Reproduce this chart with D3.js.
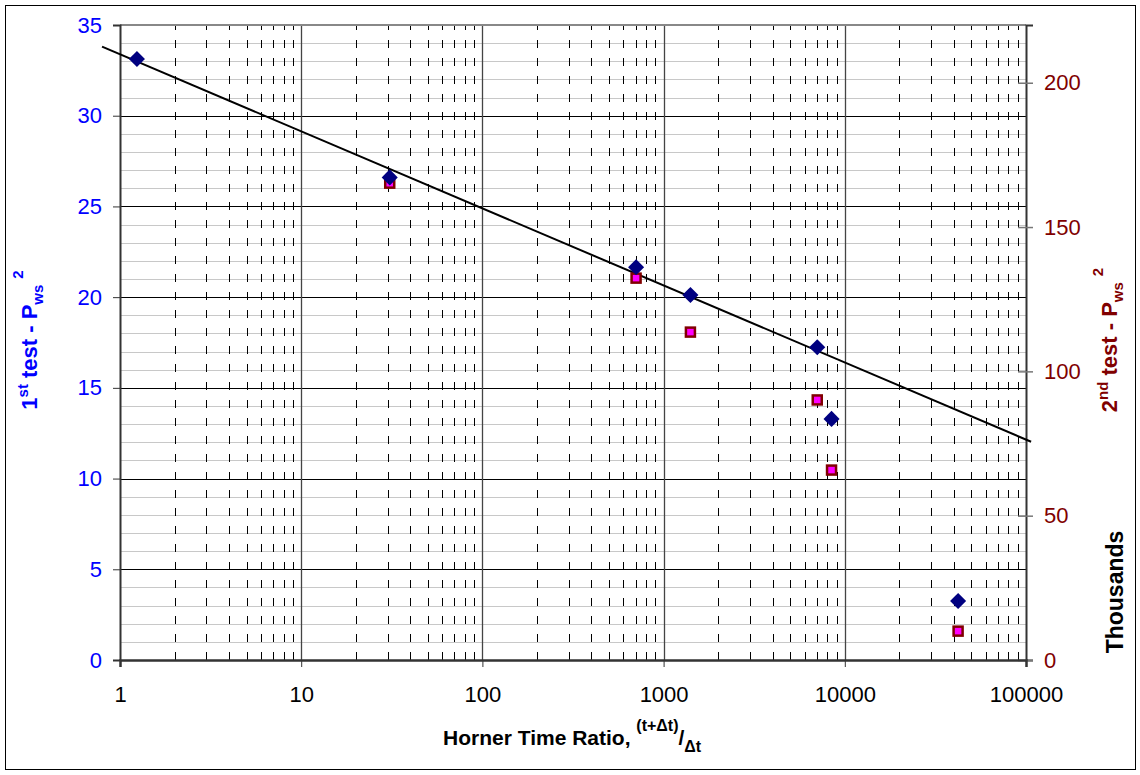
<!DOCTYPE html>
<html><head><meta charset="utf-8">
<script src="https://cdn.jsdelivr.net/npm/d3@7"></script>
<style>body{margin:0;background:#fff;} text{font-family:"Liberation Sans",Arial,sans-serif;}</style>
</head><body>
<svg id="c" width="1140" height="775"></svg>
<script>
// Data
const test1X = [1.24, 30.8, 705, 1406, 7046, 8450, 42200];
const test1Y = [33.13, 26.6, 21.65, 20.12, 17.24, 13.29, 3.25];
const test2X = [30.8, 705, 1406, 7046, 8450, 42200];
const test2Y = [165.2, 132.3, 113.6, 90.1, 65.8, 10.0]; // thousands
const trendX = [0.796, 106700];
const trendY = [33.81, 12.03];
const xTicks = [1, 10, 100, 1000, 10000, 100000];
const yLeftTicks = [0, 5, 10, 15, 20, 25, 30, 35];
const yRightTicks = [0, 50, 100, 150, 200];

const svg = d3.select("#c");
const L = 120, R = 1026, T = 25, B = 660;
const x = d3.scaleLog().domain([1, 100000]).range([L, R]);
const yL = d3.scaleLinear().domain([0, 35]).range([B, T]);
const yR = d3.scaleLinear().domain([0, 220]).range([B, T]);
const FF = "Liberation Sans, Arial, sans-serif";

// outer frame
svg.append("rect").attr("x", 5.5).attr("y", 5.5).attr("width", 1130).attr("height", 764)
  .attr("fill", "#fff").attr("stroke", "#000").attr("stroke-width", 1);

const g = svg.append("g");
// minor horizontal gridlines
d3.range(1, 35).filter(v => v % 5 !== 0).forEach(v => {
  g.append("line").attr("x1", L).attr("x2", R).attr("y1", Math.round(yL(v)) + 0.5).attr("y2", Math.round(yL(v)) + 0.5)
    .attr("stroke", "#c8c8c8").attr("stroke-width", 1);
});
// minor vertical dashed gridlines
[1, 10, 100, 1000, 10000].forEach(d => {
  d3.range(2, 10).forEach(k => {
    const xx = Math.round(x(k * d)) + 0.5;
    g.append("line").attr("x1", xx).attr("x2", xx).attr("y1", B).attr("y2", T)
      .attr("stroke", "#000").attr("stroke-width", 1).attr("stroke-dasharray", "8,10");
  });
});
// major horizontal
yLeftTicks.filter(v => v > 0 && v < 35).forEach(v => {
  g.append("line").attr("x1", L).attr("x2", R).attr("y1", Math.round(yL(v)) + 0.5).attr("y2", Math.round(yL(v)) + 0.5)
    .attr("stroke", "#000").attr("stroke-width", 1);
});
// major vertical
xTicks.filter(v => v > 1 && v < 100000).forEach(v => {
  const xx = Math.round(x(v)) + 0.5;
  g.append("line").attr("x1", xx).attr("x2", xx).attr("y1", B).attr("y2", T)
    .attr("stroke", "#444").attr("stroke-width", 1.3);
});
// top border
g.append("line").attr("x1", L).attr("x2", R).attr("y1", T).attr("y2", T).attr("stroke", "#888").attr("stroke-width", 2);

// axes
const axL = d3.axisLeft(yL).tickValues(yLeftTicks).tickSize(7).tickPadding(11).tickFormat(d3.format("d"));
const gL = svg.append("g").attr("transform", `translate(${L},0)`).call(axL);
gL.select(".domain").attr("stroke", "#333").attr("stroke-width", 2);
gL.selectAll(".tick line").attr("stroke", "#333");
gL.selectAll(".tick text").attr("fill", "#0000ff").style("font-size", "22px").style("font-family", FF);

const axR = d3.axisRight(yR).tickValues(yRightTicks).tickSize(7).tickPadding(11).tickFormat(d3.format("d"));
const gR = svg.append("g").attr("transform", `translate(${R},0)`).call(axR);
gR.select(".domain").attr("stroke", "#333").attr("stroke-width", 2);
gR.selectAll(".tick line").attr("stroke", "#777").attr("x1", -8).attr("stroke-width", 1.5);
gR.selectAll(".tick text").attr("fill", "#800000").style("font-size", "22px").style("font-family", FF);

const axB = d3.axisBottom(x).tickValues(xTicks).tickSize(7).tickPadding(19).tickFormat(d3.format("d"));
const gB = svg.append("g").attr("transform", `translate(0,${B})`).call(axB);
gB.select(".domain").attr("stroke", "#333").attr("stroke-width", 2.5);
gB.selectAll(".tick line").attr("stroke", "#333");
gB.selectAll(".tick text").attr("fill", "#000").style("font-size", "22px").style("font-family", FF);

// trend line
svg.append("line").attr("x1", x(trendX[0])).attr("y1", yL(trendY[0])).attr("x2", x(trendX[1])).attr("y2", yL(trendY[1]))
  .attr("stroke", "#000").attr("stroke-width", 2);

// test 2 squares
test2X.forEach((v, i) => {
  svg.append("rect").attr("x", x(v) - 4.5).attr("y", yR(test2Y[i]) - 4.5).attr("width", 9).attr("height", 9)
    .attr("fill", "#ff00ff").attr("stroke", "#800000").attr("stroke-width", 2.5);
});
// test 1 diamonds
test1X.forEach((v, i) => {
  svg.append("path").attr("d", d3.symbol().type(d3.symbolDiamond2).size(165)())
    .attr("transform", `translate(${x(v)},${yL(test1Y[i])})`).attr("fill", "#000080");
});

// titles
const bt = svg.append("text").attr("x", 443).attr("y", 745).style("font-size", "21px").style("font-weight", "bold").attr("fill", "#000");
bt.append("tspan").text("Horner Time Ratio, ");
bt.append("tspan").attr("dy", -14).style("font-size", "16px").text("(t+Δt)");
bt.append("tspan").attr("dy", 14).text("/");
bt.append("tspan").attr("dy", 7).style("font-size", "16px").text("Δt");

function vTitle(xp, yp, color, a, b) {
  const t = svg.append("text").attr("transform", `translate(${xp},${yp}) rotate(-90)`).attr("text-anchor", "middle")
    .style("font-size", "22px").style("font-weight", "bold").attr("fill", color);
  t.append("tspan").text(a);
  t.append("tspan").attr("dy", -9).style("font-size", "15px").text(b);
  t.append("tspan").attr("dy", 9).text(" test - P");
  t.append("tspan").attr("dy", 6).style("font-size", "15px").text("ws");
  t.append("tspan").attr("dy", -20).attr("dx", 6).style("font-size", "15px").text("2");
}
vTitle(37, 340, "#0000ff", "1", "st");
vTitle(1117, 340, "#800000", "2", "nd");
svg.append("text").attr("transform", "translate(1123,592) rotate(-90)").attr("text-anchor", "middle")
  .style("font-size", "23px").style("font-weight", "bold").attr("fill", "#000").text("Thousands");
</script>
</body></html>
